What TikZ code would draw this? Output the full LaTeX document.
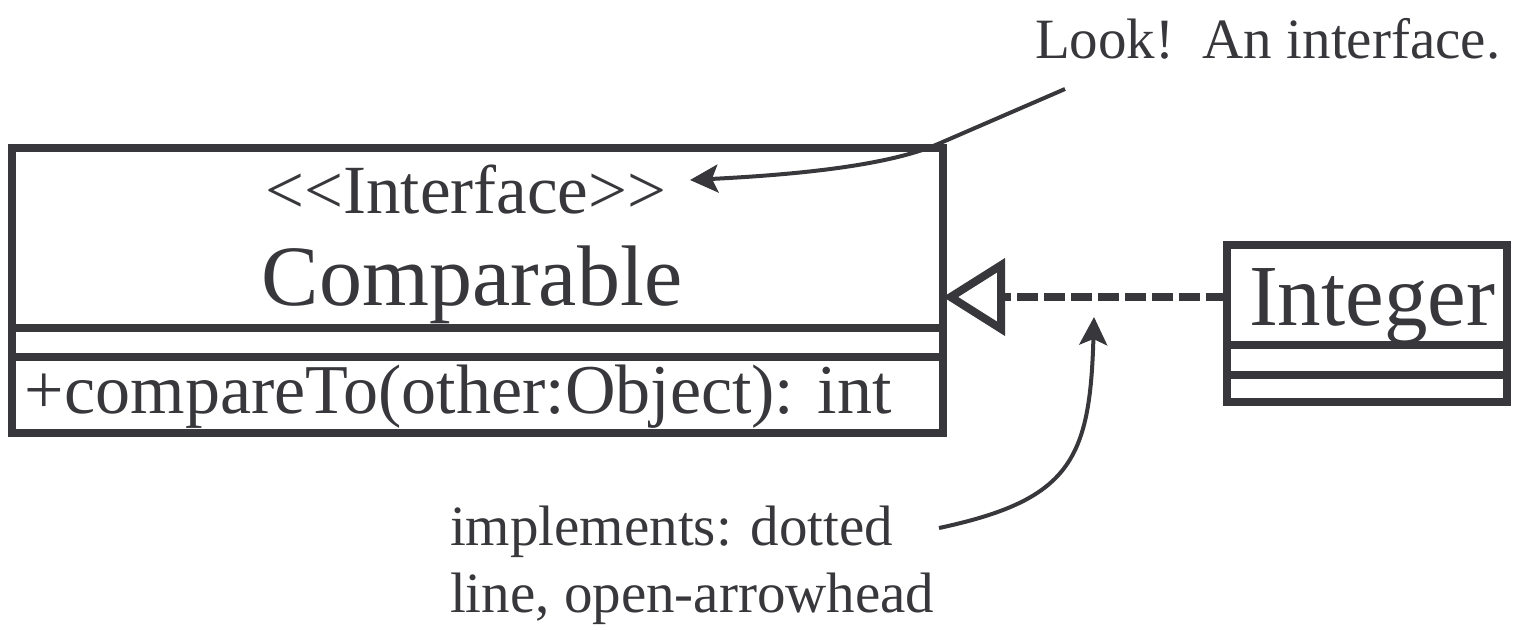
\documentclass[tikz,border=0pt]{standalone}
\usepackage{fontspec}
\setmainfont{Liberation Serif}
\usetikzlibrary{arrows.meta}
\definecolor{ink}{RGB}{56,56,60}
\def\pxu{0.5pt}
\tikzset{
  umlbox/.style={draw=ink, line width=3.75pt, inner sep=0pt, outer sep=0pt, rectangle},
  label/.style={text=ink, inner sep=0pt, outer sep=0pt},
  note/.style={label, font=\fontsize{28.5}{34}\selectfont},
  pointer/.style={draw=ink, line width=2pt, -{Stealth[length=14pt,width=14pt,inset=3pt]}},
  realize/.style={draw=ink, line width=4pt, dash pattern=on 10.5pt off 3pt,
    -{Triangle[open,length=31pt,width=38pt]}}
}
\begin{document}
\begin{tikzpicture}[x=0.5pt,y=-0.5pt]
  \useasboundingbox (0,0) rectangle (1514,629);

  % interface Comparable: name, attribute and operation compartments
  \node[umlbox, minimum width={931*\pxu}, minimum height={180*\pxu}] (cmphead) at (477.5,238) {};
  \node[umlbox, minimum width={931*\pxu}, minimum height={29*\pxu}] (cmpattr) at (477.5,342.5) {};
  \node[umlbox, minimum width={931*\pxu}, minimum height={76*\pxu}] (cmpops) at (477.5,395) {};
  \node[label, anchor=base, font=\fontsize{34.5}{40}\selectfont] (stereo) at (466,213)
    {<\kern0pt<Interface>\kern0pt>};
  \node[label, anchor=base, font=\fontsize{43}{50}\selectfont] (cmpname) at (472,305) {Comparable};
  \node[label, anchor=base west, font=\fontsize{35}{40}\selectfont] (cmpop) at (25,413)
    {+compareTo(other:Object): int};

  % class Integer
  \node[umlbox, minimum width={280*\pxu}, minimum height={100*\pxu}] (inthead) at (1367,295) {};
  \node[umlbox, minimum width={280*\pxu}, minimum height={30*\pxu}] (intattr) at (1367,360) {};
  \node[umlbox, minimum width={280*\pxu}, minimum height={27*\pxu}] (intops) at (1367,388.5) {};
  \node[label, anchor=base west, font=\fontsize{43.5}{50}\selectfont] (intname) at (1249,325) {Integer};

  % realization: Integer implements Comparable
  \draw[realize] (inthead.west |- 0,297) -- (cmphead.east |- 0,297);

  % annotations
  \node[note, anchor=base west] (looknote) at (1035,58) {Look!\ \ An interface.};
  \node[note, anchor=base west] (implnote1) at (450,545) {implements: dotted};
  \node[note, anchor=base west] (implnote2) at (450,612) {line, open-arrowhead};

  \coordinate (lookfrom) at (1065,89);
  \coordinate (lookbend) at (938,144);
  \coordinate (lookto) at (690,180);
  \coordinate (implfrom) at (939,528);
  \coordinate (implto) at (1094,317);

  \draw[pointer] (lookfrom) -- (lookbend) .. controls (886,166.5) and (790,175) .. (lookto);
  \draw[pointer] (implfrom) .. controls (1070,500) and (1090,460) .. (implto);
\end{tikzpicture}
\end{document}
